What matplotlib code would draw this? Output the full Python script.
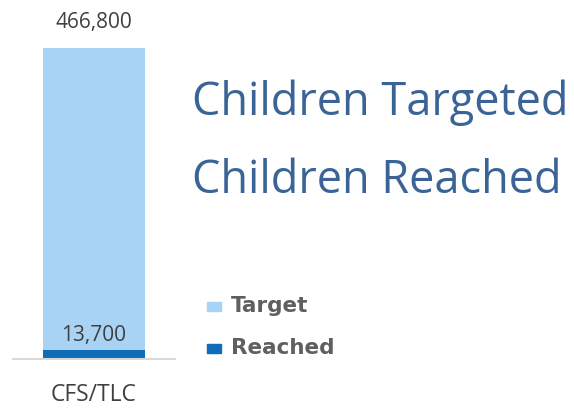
import matplotlib.pyplot as plt
import matplotlib.patches as patches

categories = ['CFS/TLC']
target = [466800]
reached = [13700]
series_names = ['Target', 'Reached']
headline = ['Children Targeted', 'Children Reached']

light_blue = '#A9D3F5'
dark_blue = '#0E6CB8'

plt.rcParams['font.family'] = ['Open Sans', 'DejaVu Sans']

fig = plt.figure(figsize=(5.74, 4.08), dpi=100)
ax = fig.add_axes([13 / 574, 1 - 359 / 408, 162 / 574, 311 / 408])

x = range(len(categories))
ax.bar(x, target, width=0.63, color=light_blue)
ax.bar(x, reached, width=0.63, color=dark_blue)
ax.set_xlim(-0.5, 0.5)
ax.set_ylim(0, max(target))

for xi, t, r in zip(x, target, reached):
    ax.annotate(f'{t:,}', (xi, t), xytext=(0, 11), textcoords='offset points',
                ha='center', va='bottom', fontsize=15, color='#404040')
    ax.annotate(f'{r:,}', (xi, r), xytext=(0, 3), textcoords='offset points',
                ha='center', va='bottom', fontsize=15, color='#404040')

ax.set_xticks(list(x))
ax.set_xticklabels(categories, fontsize=16.5, color='#404040')
ax.tick_params(axis='x', length=0, pad=17)
ax.set_yticks([])
for s in ['top', 'left', 'right']:
    ax.spines[s].set_visible(False)
ax.spines['bottom'].set_color('#D9D9D9')
ax.spines['bottom'].set_linewidth(1.5)

# headline text
fig.text(192 / 574, 1 - 103 / 408, headline[0], fontsize=32.5, color='#3A6496', va='center')
fig.text(192 / 574, 1 - 181 / 408, headline[1], fontsize=32.5, color='#3A6496', va='center')

# legend
for i, (name, col) in enumerate(zip(series_names, [light_blue, dark_blue])):
    yc = 1 - (306 + 42 * i) / 408
    fig.patches.append(patches.Rectangle((207 / 574, yc - 4.5 / 408), 14 / 574, 9 / 408,
                                         transform=fig.transFigure, color=col))
    fig.text(231 / 574, yc, name, fontsize=15.5, color='#5F5F5F', va='center',
             fontweight='bold', family='DejaVu Sans')

fig.savefig('out.png', dpi=100)
